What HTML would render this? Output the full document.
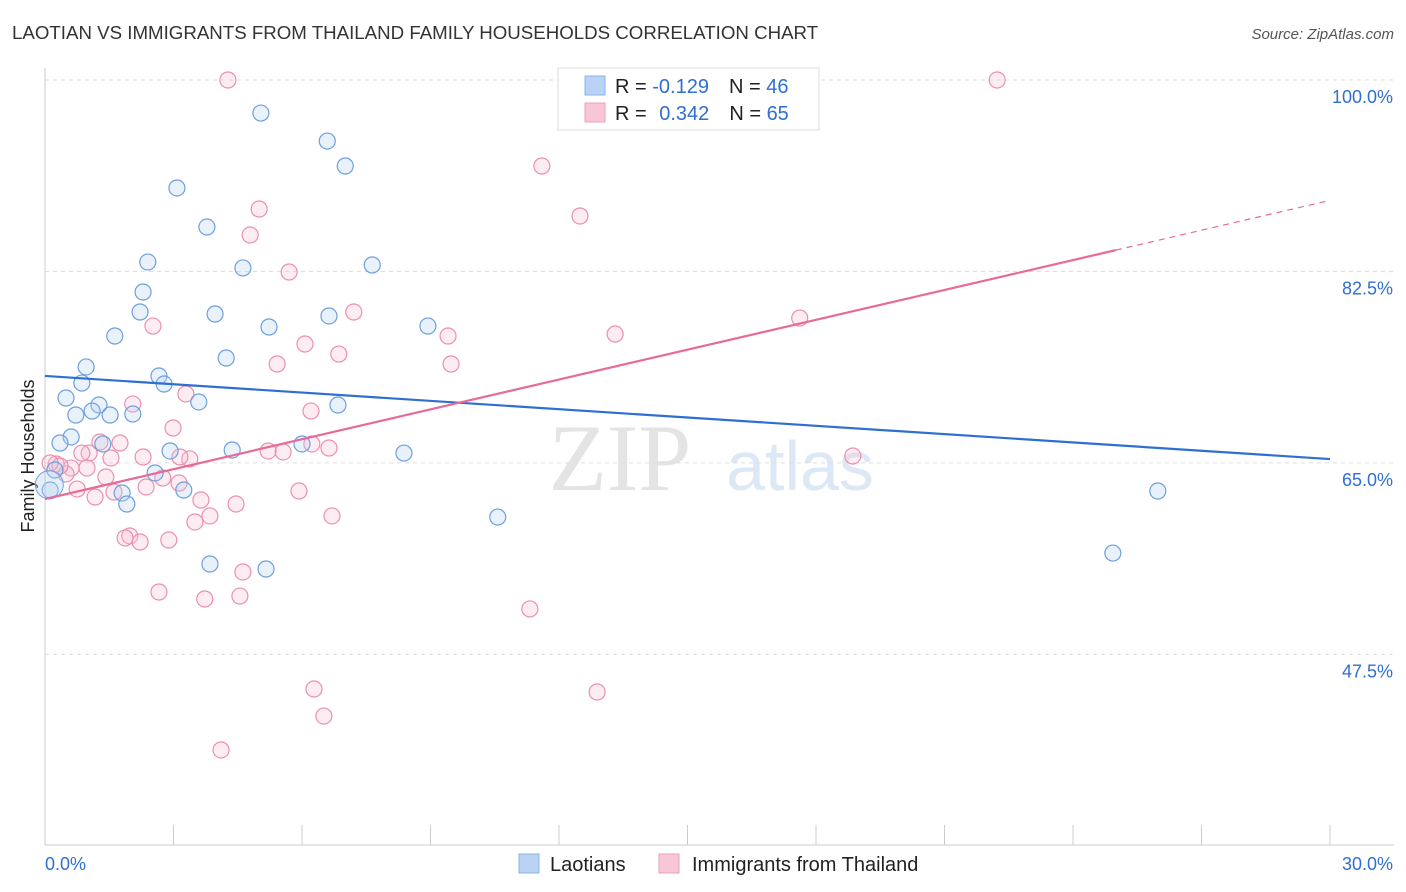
<!DOCTYPE html>
<html><head><meta charset="utf-8"><style>
body{margin:0;background:#fff;font-family:"Liberation Sans",sans-serif;}
svg{display:block}
</style></head><body>
<svg id="chart" width="1406" height="892">
<text x="12" y="39" font-size="18.7" fill="#333">LAOTIAN VS IMMIGRANTS FROM THAILAND FAMILY HOUSEHOLDS CORRELATION CHART</text>
<text x="1394" y="39" font-size="15" fill="#555" font-style="italic" text-anchor="end">Source: ZipAtlas.com</text>
<text x="34" y="456" font-size="18" fill="#222" text-anchor="middle" transform="rotate(-90 34 456)">Family Households</text>
<text x="620" y="490" font-size="95" fill="#e4e4e4" font-family="Liberation Serif,serif" text-anchor="middle">ZIP</text>
<text x="800" y="490" font-size="70" fill="#dde8f6" text-anchor="middle">atlas</text>
<g id="grid"></g><g id="marks"></g>
<g>
<rect x="558" y="68" width="261" height="62" fill="#fff" stroke="#ddd"/>
<rect x="585" y="76" width="20" height="19" fill="#b9d3f4" stroke="#8ab3e8"/>
<rect x="585" y="103" width="20" height="19" fill="#f8c6d6" stroke="#eea0ba"/>
<text x="615" y="93" font-size="20" fill="#222">R = <tspan fill="#2f6fd0">-0.129</tspan><tspan dx="20">N = </tspan><tspan fill="#2f6fd0">46</tspan></text>
<text x="615" y="120" font-size="20" fill="#222">R = <tspan dx="7" fill="#2f6fd0">0.342</tspan><tspan dx="20">N = </tspan><tspan fill="#2f6fd0">65</tspan></text>
</g>
<g>
<rect x="519" y="854" width="20" height="19" fill="#b9d3f4" stroke="#8ab3e8"/>
<text x="550" y="871" font-size="20" fill="#222">Laotians</text>
<rect x="659" y="854" width="20" height="19" fill="#f8c6d6" stroke="#eea0ba"/>
<text x="692" y="871" font-size="20" fill="#222">Immigrants from Thailand</text>
</g>
</svg>
<script>
const yTicks=[100,82.5,65,47.5];
const yTickLabels=["100.0%","82.5%","65.0%","47.5%"];
const blueX=[5.04,6.59,7.01,3.08,3.78,2.40,4.62,7.64,2.29,2.22,3.97,5.23,6.63,8.94,1.63,4.23,0.96,2.66,0.86,2.78,0.49,1.26,3.59,6.84,1.10,0.72,1.52,2.05,0.61,0.35,1.35,6.00,4.37,2.92,8.38,2.57,3.24,1.80,1.91,10.57,3.85,5.16,25.98,24.93,0.12,0.23];
const blueY=[96.98,94.42,92.14,90.13,86.56,83.36,82.82,83.09,80.62,78.79,78.61,77.42,78.43,77.51,76.60,74.59,73.77,72.94,72.30,72.21,70.93,70.29,70.57,70.29,69.74,69.38,69.38,69.47,67.37,66.82,66.73,66.73,66.18,66.09,65.90,64.08,62.52,62.25,61.24,60.05,55.76,55.30,62.43,56.76,62.52,64.35];
const pinkX=[4.27,22.23,11.60,12.49,5.00,4.79,5.70,7.21,17.62,2.52,9.41,13.31,6.07,6.86,9.48,5.42,3.29,2.05,6.21,2.99,1.75,1.28,1.03,0.86,6.23,6.63,5.21,5.56,2.29,3.38,3.15,1.54,18.86,0.26,0.61,0.98,0.49,1.42,2.75,3.13,2.36,0.75,1.17,5.93,1.61,3.64,4.46,3.85,3.50,6.70,1.98,1.87,2.22,2.89,4.62,2.66,3.73,4.55,11.32,6.28,12.89,6.51,4.11,0.35,0.12];
const pinkY=[100,100,92.14,87.57,88.21,85.83,82.45,78.79,78.24,77.51,76.60,76.78,75.87,74.95,74.04,74.04,71.30,70.38,69.74,68.19,66.82,66.91,65.90,65.90,66.73,66.36,66.09,66.00,65.54,65.36,65.54,65.45,65.63,64.90,64.53,64.53,63.99,63.71,63.62,63.16,62.80,62.61,61.88,62.43,62.34,61.61,61.24,60.15,59.60,60.15,58.32,58.14,57.77,57.95,55.03,53.20,52.56,52.83,51.65,44.33,44.06,41.86,38.76,64.72,64.99];
const NS="http://www.w3.org/2000/svg";
const X=v=>45+v/30*1285, Y=v=>80+(100-v)*10.94;
const grid=document.getElementById('grid'),marks=document.getElementById('marks');
function mk(tag,at,parent){const e=document.createElementNS(NS,tag);for(const k in at)e.setAttribute(k,at[k]);parent.appendChild(e);return e;}
const ax=mk('line',{x1:45,y1:68,x2:45,y2:845,stroke:'#ccc'},grid);


const bx=mk('line',{x1:45,y1:845,x2:1394,y2:845,stroke:'#ccc'},grid);


for(let i=0;i<=10;i++){const t=mk('line',{x1:X(i*3),y1:825,x2:X(i*3),y2:845,stroke:'#ccc'},grid);

}
yTicks.forEach((v,i)=>{const g=mk('line',{x1:45,y1:Y(v),x2:1394,y2:Y(v),stroke:'#ddd','stroke-dasharray':'4 4'},grid);


const t=mk('text',{x:1393,y:Y(v)+23,'font-size':18,fill:'#2f6fd0','text-anchor':'end'},grid);t.textContent=yTickLabels[i];

});
const x0=mk('text',{x:45,y:870,'font-size':18,fill:'#2f6fd0'},grid);x0.textContent='0.0%';


const x1=mk('text',{x:1393,y:870,'font-size':18,fill:'#2f6fd0','text-anchor':'end'},grid);x1.textContent='30.0%';


function pts(xs,ys,fill,stroke,name){xs.forEach((x,i)=>{const c=mk('circle',{cx:X(x),cy:Y(ys[i]),r:8,fill:fill,'fill-opacity':0.3,stroke:stroke,'stroke-width':1.2},marks);

});}
pts(pinkX,pinkY,'#f8c0d2','#ec8fae','point-thailand');
pts(blueX,blueY,'#b5d0f2','#6d9fe0','point-laotian');
const big=mk('circle',{cx:X(0.1),cy:Y(63),r:14,fill:'#b5d0f2','fill-opacity':0.35,stroke:'#6d9fe0'},marks);


const blueTrend=[72.95,65.35], pinkTrend=[61.7,89.0], pinkSolidEnd=25;
const bl=mk('line',{x1:X(0),y1:Y(blueTrend[0]),x2:X(30),y2:Y(blueTrend[1]),stroke:'#2f6fd0','stroke-width':2.2},marks);


const pm=pinkTrend[0]+(pinkTrend[1]-pinkTrend[0])*pinkSolidEnd/30;
const pl=mk('line',{x1:X(0),y1:Y(pinkTrend[0]),x2:X(pinkSolidEnd),y2:Y(pm),stroke:'#e86a98','stroke-width':2.2},marks);


const pd=mk('line',{x1:X(pinkSolidEnd),y1:Y(pm),x2:X(30),y2:Y(pinkTrend[1]),stroke:'#e86a98','stroke-width':1.2,'stroke-dasharray':'6 5'},marks);


</script>
</body></html>
